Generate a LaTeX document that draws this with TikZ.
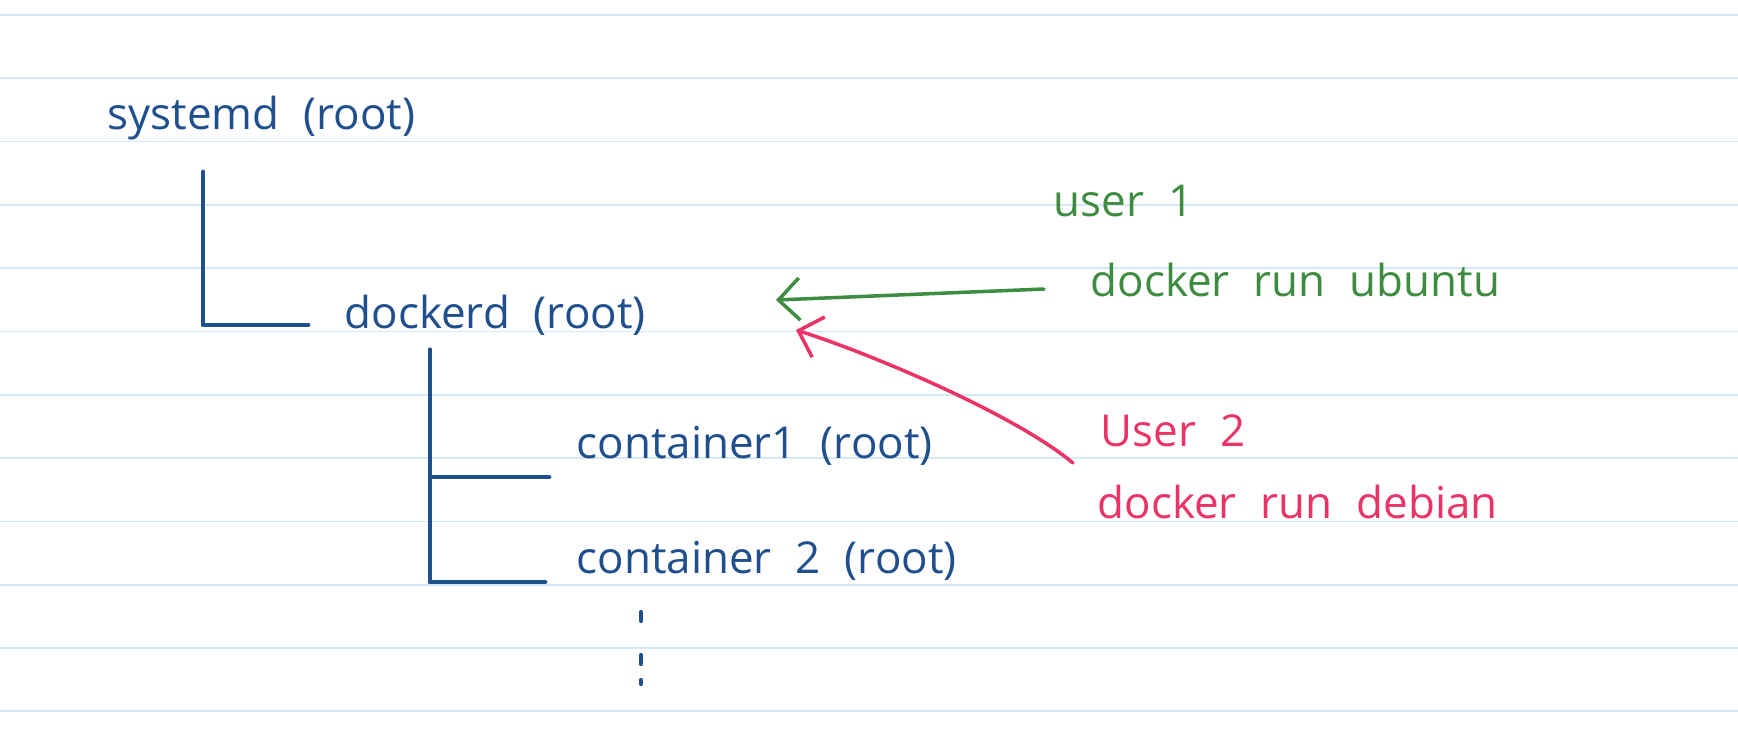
\documentclass[tikz,border=0pt]{standalone}
\usepackage{fontspec}
\setmainfont{Open Sans}[WordSpace=2.1]
\usetikzlibrary{arrows.meta,positioning,calc}

\definecolor{inkblue}{RGB}{31,79,141}
\definecolor{inkgreen}{RGB}{62,140,64}
\definecolor{inkred}{RGB}{234,52,103}
\definecolor{ruleblue}{RGB}{212,232,247}

\begin{document}
\begin{tikzpicture}[x=0.01cm,y=-0.01cm,>={Straight Barb[length=6pt,width=12pt]},
    line cap=round,line join=round,
    hand/.style={inner sep=0pt,anchor=west,font=\fontsize{12.5}{15}\selectfont},
    proc/.style={hand,text=inkblue},
    tree/.style={draw=inkblue,line width=1.4pt},
    req/.style={->,line width=1pt}]
    \fill[white] (0,0) rectangle (1738,744);
    \useasboundingbox (0,0) rectangle (1738,744);
    \foreach \k in {0,...,11}
        \draw[ruleblue,line width=0.5pt] (0,15+63.3*\k) -- (1738,15+63.3*\k);

    \node[proc] (systemd) at (107,118) {systemd (root)};
    \node[proc] (dockerd) at (344,315) {dockerd (root)};
    \node[proc] (cont1)   at (576,446) {container1 (root)};
    \node[proc] (cont2)   at (576,561) {container 2 (root)};

    \node[hand,text=inkgreen] (user1)  at (1053,201) {user 1};
    \node[hand,text=inkgreen] (ubuntu) at (1090,280) {docker run ubuntu};
    \node[hand,text=inkred]   (user2)  at (1100,431) {User 2};
    \node[hand,text=inkred]   (debian) at (1097,502) {docker run debian};

    % process tree
    \coordinate (s0) at ($(systemd.west)+(96,54)$);
    \coordinate (d0) at ($(dockerd.west)+(86,35)$);
    \draw[tree] (s0) |- ($(dockerd.west)+(-36,10)$);
    \draw[tree] (d0) |- ($(cont1.west)+(-27,31)$);
    \draw[tree] (d0) |- ($(cont2.west)+(-31,21)$);
    \foreach \y/\l in {612/9,655/9,680/4}
        \draw[inkblue,line width=1.2pt] (641,\y) -- ++(0,\l);

    % requests from the users
    \coordinate (tipg) at (776,300);
    \coordinate (tipr) at (796,330);
    \draw[req,inkgreen] ($(ubuntu.west)+(-46,9)$) -- (tipg);
    \draw[req,inkred] ($(debian.west)+(-24,-39)$)
        .. controls +(-60,-50) and +(70,22) .. (tipr);
\end{tikzpicture}
\end{document}
